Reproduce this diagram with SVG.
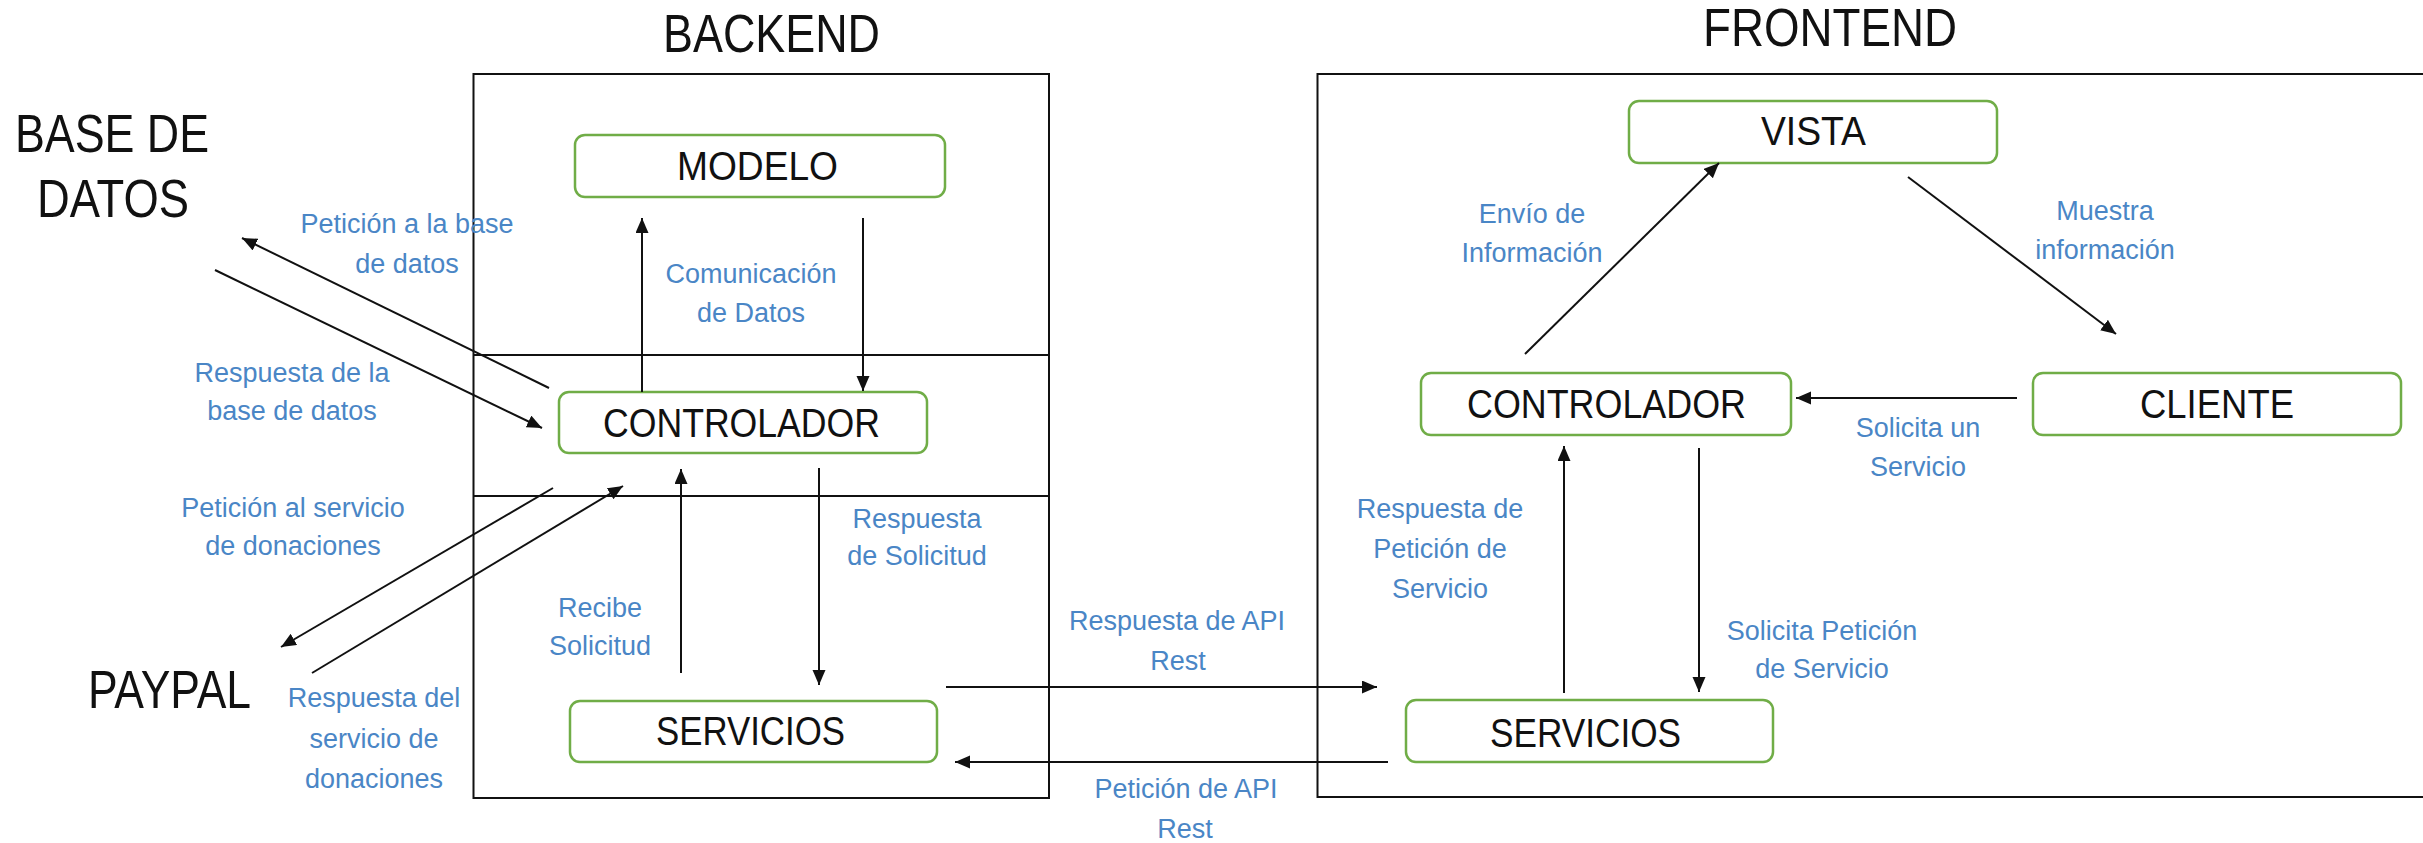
<svg xmlns="http://www.w3.org/2000/svg" width="2423" height="843" viewBox="0 0 2423 843">
<style>
.bg{fill:#ffffff}
.container{fill:none;stroke:#111;stroke-width:2}
.node rect{fill:#fff;stroke:#70AD47;stroke-width:2.5}
.node text,.title{font-family:"Liberation Sans",Arial,sans-serif;fill:#111;text-anchor:middle}
.node text{font-size:40px}
.title{font-size:54px}
.lbl{font-family:"Liberation Sans",Arial,sans-serif;font-size:27px;fill:#4A86C6;text-anchor:middle}
.conn line{stroke:#111;stroke-width:2;marker-end:url(#arr)}
</style>
<defs>
<marker id="arr" markerUnits="userSpaceOnUse" markerWidth="16" markerHeight="14" refX="15" refY="6.5" orient="auto">
<path d="M0,0 L15,6.5 L0,13 z" fill="#111"/>
</marker>
</defs>
<rect class="bg" x="0" y="0" width="2423" height="843"/>

<g id="backend-container">
<rect class="container" x="473.5" y="74" width="575.5" height="724"/>
<line x1="473.5" y1="355" x2="1049" y2="355" stroke="#111" stroke-width="2"/>
<line x1="473.5" y1="496" x2="1049" y2="496" stroke="#111" stroke-width="2"/>
<text class="title" x="771.5" y="52" textLength="217" lengthAdjust="spacingAndGlyphs">BACKEND</text>
</g>
<g id="frontend-container">
<rect class="container" x="1317.5" y="74" width="1120" height="723"/>
<text class="title" x="1830" y="46" font-size="50" textLength="254" lengthAdjust="spacingAndGlyphs">FRONTEND</text>
</g>

<g id="base-de-datos">
<text class="title" x="112" y="152" textLength="194" lengthAdjust="spacingAndGlyphs">BASE DE</text>
<text class="title" x="113" y="217" textLength="152" lengthAdjust="spacingAndGlyphs">DATOS</text>
</g>
<g id="paypal">
<text class="title" x="169.5" y="708" textLength="163" lengthAdjust="spacingAndGlyphs">PAYPAL</text>
</g>

<g id="modelo" class="node">
<rect x="575" y="135" width="370" height="62" rx="10"/>
<text x="757.5" y="180" textLength="161" lengthAdjust="spacingAndGlyphs">MODELO</text>
</g>
<g id="controlador-back" class="node">
<rect x="559" y="392" width="368" height="61" rx="10"/>
<text x="741.5" y="437" textLength="277" lengthAdjust="spacingAndGlyphs">CONTROLADOR</text>
</g>
<g id="servicios-back" class="node">
<rect x="570" y="701" width="367" height="61" rx="10"/>
<text x="750.5" y="745" textLength="189" lengthAdjust="spacingAndGlyphs">SERVICIOS</text>
</g>
<g id="vista" class="node">
<rect x="1629" y="101" width="368" height="62" rx="10"/>
<text x="1813.5" y="145" textLength="105" lengthAdjust="spacingAndGlyphs">VISTA</text>
</g>
<g id="controlador-front" class="node">
<rect x="1421" y="373" width="370" height="62" rx="10"/>
<text x="1606.5" y="418" textLength="279" lengthAdjust="spacingAndGlyphs">CONTROLADOR</text>
</g>
<g id="cliente" class="node">
<rect x="2033" y="373" width="368" height="62" rx="10"/>
<text x="2217" y="418" textLength="154" lengthAdjust="spacingAndGlyphs">CLIENTE</text>
</g>
<g id="servicios-front" class="node">
<rect x="1406" y="700" width="367" height="62" rx="10"/>
<text x="1585.5" y="747" textLength="191" lengthAdjust="spacingAndGlyphs">SERVICIOS</text>
</g>

<g id="connectors" class="conn">
<line x1="549" y1="388" x2="242" y2="238"/>
<line x1="215" y1="270" x2="542" y2="428"/>
<line x1="642" y1="392" x2="642" y2="218"/>
<line x1="863" y1="218" x2="863" y2="391"/>
<line x1="553" y1="488" x2="281" y2="647"/>
<line x1="312" y1="673" x2="623" y2="486"/>
<line x1="681" y1="673" x2="681" y2="469"/>
<line x1="819" y1="468" x2="819" y2="685"/>
<line x1="946" y1="687" x2="1377" y2="687"/>
<line x1="1388" y1="762" x2="955" y2="762"/>
<line x1="1525" y1="354" x2="1719" y2="163"/>
<line x1="1908" y1="177" x2="2116" y2="334"/>
<line x1="2017" y1="398" x2="1796" y2="398"/>
<line x1="1564" y1="693" x2="1564" y2="446"/>
<line x1="1699" y1="448" x2="1699" y2="692"/>
</g>

<g id="labels">
<text class="lbl" x="407" y="233">Petición a la base</text>
<text class="lbl" x="407" y="273">de datos</text>
<text class="lbl" x="751" y="283">Comunicación</text>
<text class="lbl" x="751" y="322">de Datos</text>
<text class="lbl" x="292" y="382">Respuesta de la</text>
<text class="lbl" x="292" y="420">base de datos</text>
<text class="lbl" x="293" y="517">Petición al servicio</text>
<text class="lbl" x="293" y="555">de donaciones</text>
<text class="lbl" x="374" y="707">Respuesta del</text>
<text class="lbl" x="374" y="748">servicio de</text>
<text class="lbl" x="374" y="788">donaciones</text>
<text class="lbl" x="600" y="617">Recibe</text>
<text class="lbl" x="600" y="655">Solicitud</text>
<text class="lbl" x="917" y="528">Respuesta</text>
<text class="lbl" x="917" y="565">de Solicitud</text>
<text class="lbl" x="1177" y="630">Respuesta de API</text>
<text class="lbl" x="1178" y="670">Rest</text>
<text class="lbl" x="1186" y="798">Petición de API</text>
<text class="lbl" x="1185" y="838">Rest</text>
<text class="lbl" x="1532" y="223">Envío de</text>
<text class="lbl" x="1532" y="262">Información</text>
<text class="lbl" x="2105" y="220">Muestra</text>
<text class="lbl" x="2105" y="259">información</text>
<text class="lbl" x="1918" y="437">Solicita un</text>
<text class="lbl" x="1918" y="476">Servicio</text>
<text class="lbl" x="1440" y="518">Respuesta de</text>
<text class="lbl" x="1440" y="558">Petición de</text>
<text class="lbl" x="1440" y="598">Servicio</text>
<text class="lbl" x="1822" y="640">Solicita Petición</text>
<text class="lbl" x="1822" y="678">de Servicio</text>
</g>
</svg>
